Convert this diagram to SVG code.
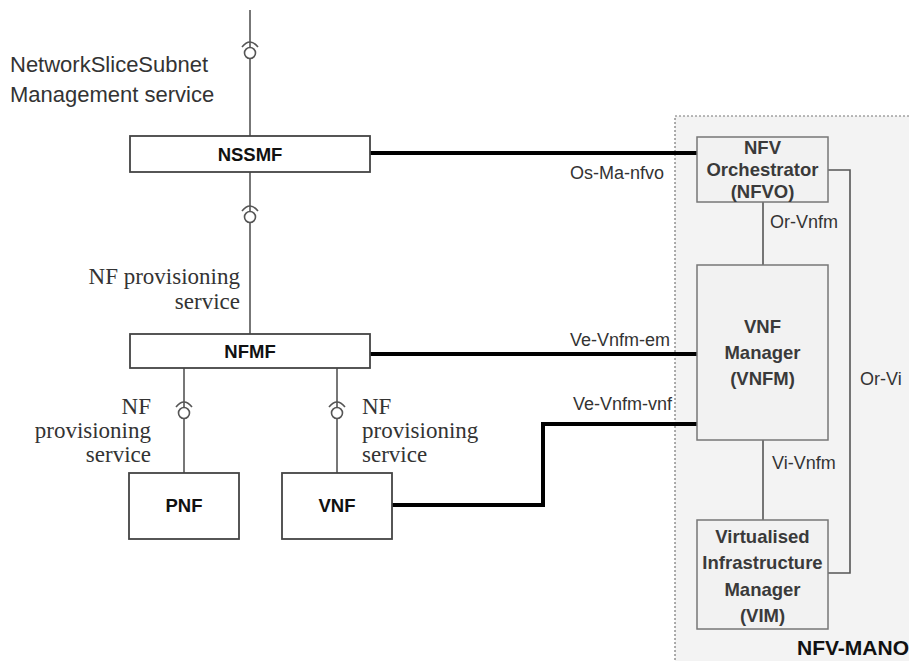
<svg xmlns="http://www.w3.org/2000/svg" width="909" height="661" viewBox="0 0 909 661">
<style>
.box{fill:#fff;stroke:#444;stroke-width:1.8}
.mbox{fill:#f2f2f2;stroke:#777;stroke-width:1.5}
.thin{fill:none;stroke:#555;stroke-width:1.6}
.thick{fill:none;stroke:#000;stroke-width:4}
.lbl{font-family:"Liberation Sans",Arial,sans-serif;font-weight:bold;font-size:18.5px;fill:#111;text-anchor:middle}
.mlbl{font-family:"Liberation Sans",Arial,sans-serif;font-weight:bold;font-size:18.5px;fill:#3a3a3a;text-anchor:middle}
.if{font-family:"Liberation Sans",Arial,sans-serif;font-size:18px;fill:#333}
.serif{font-family:"Liberation Serif","Times New Roman",serif;font-size:23px;fill:#333}
.sans{font-family:"Liberation Sans",Arial,sans-serif;font-size:22px;fill:#333}
.ball{fill:#fff;stroke:#555;stroke-width:1.6}
</style>
<defs>
<g id="lolli">
<path d="M-8,6 Q0,-4 8,6" fill="none" stroke="#555" stroke-width="1.6"/>
<circle cx="0" cy="12" r="5.5" class="ball"/>
</g>
</defs>

<g id="mano">
<rect x="675" y="116" width="240" height="560" fill="#f3f3f3" stroke="#777" stroke-width="1.2" stroke-dasharray="2,2"/>
<text x="909" y="655" text-anchor="end" style="font-family:'Liberation Sans',Arial,sans-serif;font-weight:bold;font-size:21px;fill:#111">NFV-MANO</text>
</g>

<g id="connectors">
<line class="thin" x1="250" y1="10" x2="250" y2="136"/>
<line class="thin" x1="250" y1="172" x2="250" y2="334"/>
<line class="thin" x1="184" y1="368" x2="184" y2="473"/>
<line class="thin" x1="337" y1="368" x2="337" y2="473"/>
<use href="#lolli" x="250" y="41"/>
<use href="#lolli" x="250" y="205"/>
<use href="#lolli" x="184" y="401"/>
<use href="#lolli" x="337" y="401"/>
<line class="thick" x1="370" y1="153" x2="697" y2="153"/>
<line class="thick" x1="370" y1="354" x2="697" y2="354"/>
<polyline class="thick" points="392,505 543,505 543,424 697,424"/>
<line class="thin" x1="763" y1="202" x2="763" y2="265"/>
<line class="thin" x1="763" y1="440" x2="763" y2="520"/>
<polyline class="thin" points="828,170 850,170 850,573 828,573"/>
<text class="if" x="570" y="179">Os-Ma-nfvo</text>
<text class="if" x="570" y="346">Ve-Vnfm-em</text>
<text class="if" x="573" y="410">Ve-Vnfm-vnf</text>
<text class="if" x="770" y="228">Or-Vnfm</text>
<text class="if" x="772" y="469">Vi-Vnfm</text>
<text class="if" x="860" y="385">Or-Vi</text>
</g>

<g id="labels">
<text class="sans" x="10" y="72">NetworkSliceSubnet</text>
<text class="sans" x="10" y="102">Management service</text>
<text class="serif" text-anchor="end" x="240" y="284">NF provisioning</text>
<text class="serif" text-anchor="end" x="240" y="309">service</text>
<text class="serif" text-anchor="end" x="151" y="414">NF</text>
<text class="serif" text-anchor="end" x="151" y="438">provisioning</text>
<text class="serif" text-anchor="end" x="151" y="462">service</text>
<text class="serif" x="362" y="414">NF</text>
<text class="serif" x="362" y="438">provisioning</text>
<text class="serif" x="362" y="462">service</text>
</g>

<g id="nssmf">
<rect class="box" x="130" y="136" width="240" height="36"/>
<text class="lbl" x="250" y="161">NSSMF</text>
</g>
<g id="nfmf">
<rect class="box" x="130" y="334" width="240" height="34"/>
<text class="lbl" x="250" y="358">NFMF</text>
</g>
<g id="pnf">
<rect class="box" x="129" y="473" width="110" height="66"/>
<text class="lbl" x="184" y="512">PNF</text>
</g>
<g id="vnf">
<rect class="box" x="282" y="473" width="110" height="66"/>
<text class="lbl" x="337" y="512">VNF</text>
</g>
<g id="nfvo">
<rect class="mbox" x="697" y="137" width="131" height="65"/>
<text class="mlbl" x="762.5" y="154">NFV</text>
<text class="mlbl" x="762.5" y="176">Orchestrator</text>
<text class="mlbl" x="762.5" y="198">(NFVO)</text>
</g>
<g id="vnfm">
<rect class="mbox" x="697" y="265" width="131" height="175"/>
<text class="mlbl" x="762.5" y="333">VNF</text>
<text class="mlbl" x="762.5" y="359">Manager</text>
<text class="mlbl" x="762.5" y="385">(VNFM)</text>
</g>
<g id="vim">
<rect class="mbox" x="697" y="520" width="131" height="109"/>
<text class="mlbl" x="762.5" y="543">Virtualised</text>
<text class="mlbl" x="762.5" y="569">Infrastructure</text>
<text class="mlbl" x="762.5" y="596">Manager</text>
<text class="mlbl" x="762.5" y="622">(VIM)</text>
</g>
</svg>
